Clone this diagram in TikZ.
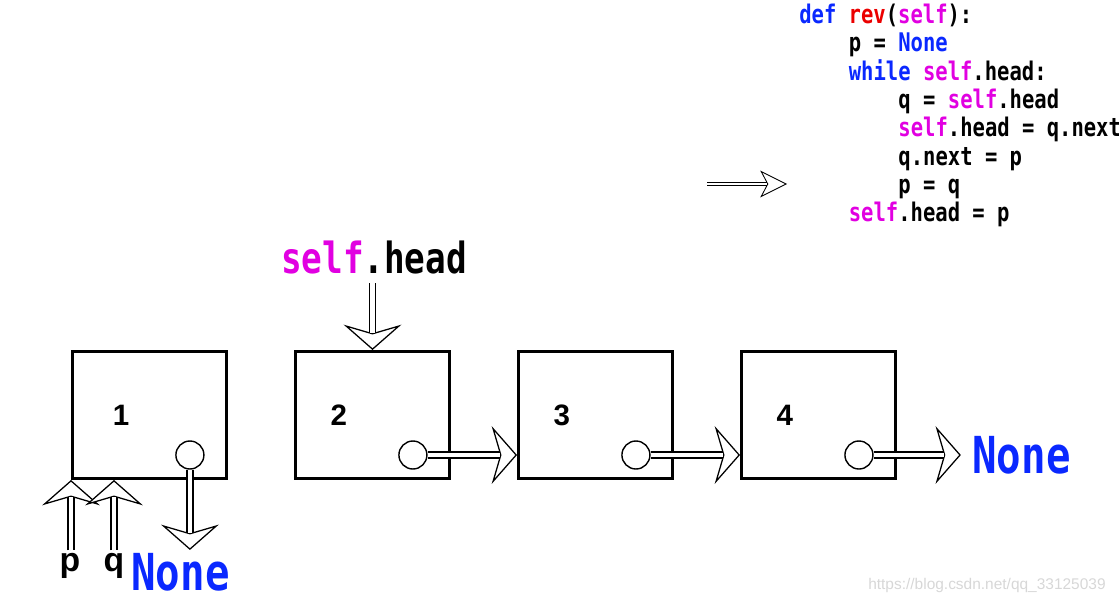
\documentclass[tikz,border=0pt]{standalone}
\usepackage{fontspec}
\usepackage{graphicx}
\usetikzlibrary{arrows.meta,positioning}
\newfontfamily\codefont{DejaVu Sans Mono}
\newfontfamily\labelfont{Liberation Sans}
\definecolor{kwblue}{RGB}{10,40,255}
\definecolor{selfpink}{RGB}{225,0,225}
\definecolor{fnred}{RGB}{235,0,0}
\definecolor{markgray}{RGB}{215,215,215}
\newcommand{\tall}[1]{\scalebox{1}[1.25]{#1}}
\newcommand{\kw}[1]{\textcolor{kwblue}{#1}}
\newcommand{\fn}[1]{\textcolor{fnred}{#1}}
\newcommand{\slf}{\textcolor{selfpink}{self}}

\begin{document}
\begin{tikzpicture}[x=0.025cm,y=-0.025cm,
    cell/.style={draw,line width=2.1pt,minimum width=3.85cm,minimum height=3.175cm},
    digit/.style={font=\labelfont\bfseries\fontsize{21}{24}\selectfont},
    var/.style={font=\labelfont\bfseries\fontsize{24}{26}\selectfont,inner sep=2pt},
    dot/.style={draw,circle,line width=1pt,minimum size=0.7cm,inner sep=0pt},
    nonelab/.style={font=\codefont\bfseries\fontsize{29}{32}\selectfont,text=kwblue,inner sep=2pt},
    headlab/.style={font=\codefont\bfseries\fontsize{24.4}{28}\selectfont,inner sep=6pt},
    code/.style={font=\codefont\bfseries\fontsize{14.6}{16}\selectfont,inner sep=0pt,anchor=base west},
    ptr/.style={line width=0.9pt,
        -{Stealth[open,fill=white,length=18pt,width=41pt,inset=6pt]},
        postaction={draw,arrows=-,double,double distance=3.4pt,shorten >=12pt}},
    smallptr/.style={line width=0.6pt,
        -{Stealth[open,fill=white,length=19pt,width=19pt,inset=5pt]},
        postaction={draw,arrows=-,double,double distance=2pt,shorten >=14pt}}]
    \useasboundingbox (0,0) rectangle (1119,602);

    % list nodes
    \node[cell] (n1) at (149.5,415) {};
    \node[cell,right=1.65cm of n1] (n2) {};
    \node[cell,right=1.65cm of n2] (n3) {};
    \node[cell,right=1.65cm of n3] (n4) {};
    \foreach \i in {1,...,4} {
        \node[digit] (v\i) at ([xshift={(-0.84+0.13*(\i==1))*1cm}]n\i.center) {\i};
        \node[dot] (c\i) at ([xshift=1.01cm,yshift=-1cm]n\i.center) {};
    }

    % labels
    \node[headlab] (head) at (374,258) {\tall{\slf.head}};
    \node[var] (p) at (70,566) {p};
    \node[var] (q) at (114,566) {q};
    \node[nonelab] (none1) at (180.5,572) {\tall{None}};
    \node[nonelab] (none2) at (1021.5,455) {\tall{None}};

    % pointers
    \draw[ptr] (head.south -| n2.north) -- (n2.north);
    \draw[ptr] (c2.east) -- (c2.east -| n3.west);
    \draw[ptr] (c3.east) -- (c3.east -| n4.west);
    \draw[ptr] (c4.east) -- ([xshift=-6pt]c4.east -| none2.west);
    \draw[ptr] (c1.south) -- (c1.south |- none1.north);
    \draw[ptr] (n1.south west |- p.north) -- (n1.south west);
    \draw[ptr] (q.north) -- (q.north |- n1.south);

    % code
    \foreach \ind/\txt [count=\k] in {0/{\kw{def} \fn{rev}(\slf):},
            1/{p = \kw{None}},
            1/{\kw{while} \slf.head:},
            2/{q = \slf.head},
            2/{\slf.head = q.next},
            2/{q.next = p},
            2/{p = q},
            1/{\slf.head = p}} {
        \node[code] (l\k) at ({799+49.6*\ind},{23.5+28.35*(\k-1)}) {\tall{\txt}};
    }
    \coordinate (from) at (707,184);
    \coordinate (to) at (787,184);
    \draw[smallptr] (from) -- (to);

    \node[font=\labelfont\fontsize{11}{13}\selectfont,text=markgray,inner sep=0pt,anchor=base west] (wm) at (868,589) {https://blog.csdn.net/qq\_33125039};
\end{tikzpicture}
\end{document}
